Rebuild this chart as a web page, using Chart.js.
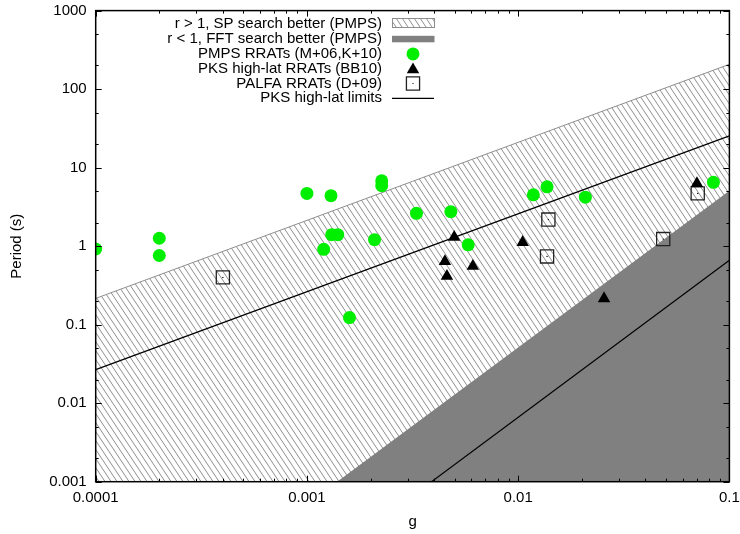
<!DOCTYPE html>
<html>
<head>
<meta charset="utf-8">
<script src="https://cdn.jsdelivr.net/npm/chart.js@4/dist/chart.umd.min.js"></script>
<style>
    html, body { margin: 0; padding: 0; background: #fff; overflow: hidden; }
    #wrap { width: 740px; height: 534px; }
</style>
</head>
<body>
<div id="wrap"><canvas id="chart" width="740" height="534"></canvas></div>
<script>
// axis ticks
const xTicks = [0.0001, 0.001, 0.01, 0.1];
const yTicks = [0.001, 0.01, 0.1, 1, 10, 100, 1000];
const xMinor = [2, 3, 4, 5, 6, 7, 8, 9];
const yMinor = [2, 5];

// region boundaries (g, P)
const spG = [0.0001, 0.1];
const spP = [0.216, 207];
const fftG = [0.00139, 0.1];
const fftP = [0.001, 5.08];
const limUpG = [0.0001, 0.1];
const limUpP = [0.0268, 25.4];
const limLoG = [0.00389, 0.1];
const limLoP = [0.001, 0.66];

// PMPS RRATs
const pmpsG = [0.0001, 0.0002, 0.0002, 0.001, 0.0013, 0.00131, 0.0014, 0.0012, 0.00159, 0.00226, 0.00226,
               0.00209, 0.0033, 0.0048, 0.0058, 0.0118, 0.0137, 0.0208, 0.084];
const pmpsP = [0.92, 1.26, 0.76, 4.7, 4.4, 1.4, 1.4, 0.91, 0.123, 6.8, 5.9,
               1.21, 2.62, 2.75, 1.04, 4.5, 5.7, 4.2, 6.5];
// PKS high-lat RRATs
const pksG = [0.0702, 0.00498, 0.0105, 0.0045, 0.0061, 0.0046, 0.0255];
const pksP = [6.3, 1.3, 1.12, 0.64, 0.556, 0.415, 0.215];
// PALFA RRATs
const palfaG = [0.0004, 0.0139, 0.0137, 0.0486, 0.0708];
const palfaP = [0.40, 2.18, 0.74, 1.23, 4.7];

const legendLabels = [
    'r > 1, SP search better (PMPS)',
    'r < 1, FFT search better (PMPS)',
    'PMPS RRATs (M+06,K+10)',
    'PKS high-lat RRATs (BB10)',
    'PALFA RRATs (D+09)',
    'PKS high-lat limits'
];

const FONT = '"Liberation Sans", Arial, Helvetica, sans-serif';

function pts(gs, ps) {
    return gs.map((g, i) => ({ x: g, y: ps[i] }));
}

function makeHatch() {
    const c = document.createElement('canvas');
    c.width = 6;
    c.height = 9;
    const g = c.getContext('2d');
    g.strokeStyle = '#8e8e8e';
    g.lineWidth = 1;
    g.beginPath();
    [-6, 0, 6].forEach(dx => {
        g.moveTo(dx - 1, -1.5);
        g.lineTo(dx + 7, 10.5);
    });
    g.stroke();
    return g.createPattern(c, 'repeat');
}

const hatch = makeHatch();

// inward ticks on all four sides plus the frame
const framePlugin = {
    id: 'frame',
    afterDatasetsDraw(chart) {
        const { ctx, chartArea: a, scales: { x, y } } = chart;
        ctx.save();
        ctx.strokeStyle = '#000';
        ctx.lineWidth = 1;
        ctx.beginPath();
        const xTick = (v, len) => {
            const px = Math.round(x.getPixelForValue(v)) + 0.5;
            ctx.moveTo(px, a.bottom); ctx.lineTo(px, a.bottom - len);
            ctx.moveTo(px, a.top); ctx.lineTo(px, a.top + len);
        };
        const yTick = (v, len) => {
            const py = Math.round(y.getPixelForValue(v)) + 0.5;
            ctx.moveTo(a.left, py); ctx.lineTo(a.left + len, py);
            ctx.moveTo(a.right, py); ctx.lineTo(a.right - len, py);
        };
        xTicks.forEach((v, i) => {
            xTick(v, 6);
            if (i < xTicks.length - 1) xMinor.forEach(m => xTick(v * m, 3));
        });
        yTicks.forEach((v, i) => {
            yTick(v, 6);
            if (i < yTicks.length - 1) yMinor.forEach(m => yTick(v * m, 3));
        });
        ctx.stroke();
        ctx.lineWidth = 1.5;
        ctx.strokeRect(a.left, a.top, a.right - a.left, a.bottom - a.top);
        ctx.restore();
    }
};

// key in the upper middle, text right-aligned, samples to the right
const keyPlugin = {
    id: 'key',
    afterDraw(chart) {
        const ctx = chart.ctx;
        const textX = 382;
        const y0 = 24.3;
        const dy = 14.8;
        ctx.save();
        ctx.font = '15px ' + FONT;
        ctx.fillStyle = '#000';
        ctx.textAlign = 'right';
        ctx.textBaseline = 'middle';
        legendLabels.forEach((t, i) => ctx.fillText(t, textX, y0 + i * dy));

        // hatched box
        ctx.fillStyle = '#fff';
        ctx.fillRect(392, 18.5, 42, 9);
        ctx.fillStyle = hatch;
        ctx.fillRect(392, 18.5, 42, 9);
        ctx.strokeStyle = '#8e8e8e';
        ctx.lineWidth = 1;
        ctx.strokeRect(392.5, 18.5, 42, 9);
        // solid box
        ctx.fillStyle = '#808080';
        ctx.fillRect(392, 35.8, 42.5, 6.5);
        // circle
        ctx.fillStyle = '#00ee00';
        Chart.helpers.drawPoint(ctx, { pointStyle: 'circle', radius: 6.5, borderWidth: 0, rotation: 0 }, 413, y0 + 2 * dy);
        // triangle
        ctx.fillStyle = '#000';
        Chart.helpers.drawPoint(ctx, { pointStyle: 'triangle', radius: 7.2, borderWidth: 0, rotation: 0 }, 413, y0 + 3 * dy + 1);
        // square
        ctx.fillStyle = 'rgba(0,0,0,0)';
        ctx.strokeStyle = '#222';
        ctx.lineWidth = 1.3;
        Chart.helpers.drawPoint(ctx, { pointStyle: 'rect', radius: 9.3, borderWidth: 1.3, rotation: 0 }, 413, y0 + 4 * dy);
        ctx.fillStyle = '#000';
        ctx.fillRect(412.5, y0 + 4 * dy - 0.5, 1, 1);
        // line
        ctx.strokeStyle = '#000';
        ctx.lineWidth = 1.2;
        ctx.beginPath();
        ctx.moveTo(392, y0 + 5 * dy);
        ctx.lineTo(434, y0 + 5 * dy);
        ctx.stroke();
        ctx.restore();
    }
};

const tickFont = { family: FONT, size: 15 };

new Chart(document.getElementById('chart').getContext('2d'), {
    type: 'scatter',
    data: {
        datasets: [
            {
                label: legendLabels[2], data: pts(pmpsG, pmpsP),
                pointStyle: 'circle', pointRadius: 6.5, backgroundColor: '#00ee00', borderWidth: 0, order: 3
            },
            {
                label: legendLabels[3], data: pts(pksG, pksP),
                pointStyle: 'triangle', pointRadius: 7.2, backgroundColor: '#000', borderWidth: 0, order: 1
            },
            {
                label: legendLabels[4], data: pts(palfaG, palfaP),
                pointStyle: 'rect', pointRadius: 9.3, backgroundColor: 'rgba(0,0,0,0)',
                borderColor: '#222', borderWidth: 1.3, order: 2
            },
            {
                label: 'PALFA centre', data: pts(palfaG, palfaP),
                pointStyle: 'circle', pointRadius: 0.7, backgroundColor: '#000', borderWidth: 0, order: 2
            },
            {
                label: legendLabels[5], data: pts(limUpG, limUpP), showLine: true,
                pointRadius: 0, borderColor: '#000', borderWidth: 1.2, fill: false, order: 4
            },
            {
                label: legendLabels[5], data: pts(limLoG, limLoP), showLine: true,
                pointRadius: 0, borderColor: '#000', borderWidth: 1.2, fill: false, order: 4
            },
            {
                label: legendLabels[1], data: pts(fftG, fftP), showLine: true,
                pointRadius: 0, borderColor: '#808080', borderWidth: 0, backgroundColor: '#808080',
                fill: 'start', order: 5
            },
            {
                label: legendLabels[0], data: pts(spG, spP), showLine: true,
                pointRadius: 0, borderColor: '#8e8e8e', borderWidth: 1, backgroundColor: hatch,
                fill: 'start', order: 6
            }
        ]
    },
    options: {
        responsive: false,
        animation: false,
        devicePixelRatio: 1,
        layout: { padding: { left: 0, right: 7.3, top: 9.5, bottom: 0 } },
        plugins: { legend: { display: false }, tooltip: { enabled: false } },
        scales: {
            x: {
                type: 'logarithmic',
                min: 0.0001,
                max: 0.1,
                grid: { display: false, drawTicks: false },
                border: { display: false },
                afterBuildTicks: s => { s.ticks = xTicks.map(v => ({ value: v })); },
                afterFit: s => { s.height = 52.3; s.paddingLeft = 0; s.paddingRight = 0; },
                ticks: {
                    callback: v => String(v), font: tickFont, color: '#000',
                    padding: 7, maxRotation: 0, autoSkip: false
                },
                title: { display: true, text: 'g', font: tickFont, color: '#000', padding: { top: 0, bottom: 3 } }
            },
            y: {
                type: 'logarithmic',
                min: 0.001,
                max: 1000,
                grid: { display: false, drawTicks: false },
                border: { display: false },
                afterBuildTicks: s => { s.ticks = yTicks.map(v => ({ value: v })); },
                afterFit: s => { s.width = 95.7; s.paddingTop = 0; s.paddingBottom = 0; },
                ticks: { callback: v => String(v), font: tickFont, color: '#000', padding: 9, autoSkip: false },
                title: { display: true, text: 'Period (s)', font: tickFont, color: '#000', padding: { top: 8, bottom: 0 } }
            }
        }
    },
    plugins: [framePlugin, keyPlugin]
});
</script>
</body>
</html>
